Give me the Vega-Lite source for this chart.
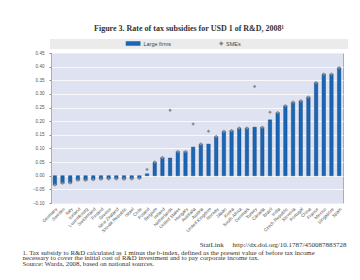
{
  "$schema": "https://vega.github.io/schema/vega-lite/v6.json",
  "autosize": {"type": "none"},
  "width": 292,
  "height": 150,
  "padding": {"left": 51, "top": 53, "right": 17, "bottom": 77},
  "background": "white",
  "title": {
    "text": "Figure 3.  Rate of tax subsidies for USD 1 of R&D, 2008¹",
    "font": "Liberation Serif",
    "fontSize": 8,
    "fontWeight": "bold",
    "color": "#333333",
    "anchor": "middle",
    "dx": -8,
    "offset": 6
  },
  "data": {
    "values": [
      {"country": "Germany", "large": -0.034, "sme": -0.034},
      {"country": "Sweden", "large": -0.028, "sme": -0.028},
      {"country": "Italy", "large": -0.027, "sme": -0.027},
      {"country": "Iceland", "large": -0.017, "sme": -0.017},
      {"country": "Luxembourg", "large": -0.017, "sme": -0.017},
      {"country": "Switzerland", "large": -0.015, "sme": -0.015},
      {"country": "Finland", "large": -0.013, "sme": -0.013},
      {"country": "Greece", "large": -0.012, "sme": -0.012},
      {"country": "New Zealand", "large": -0.012, "sme": -0.012},
      {"country": "Slovak Republic", "large": -0.013, "sme": -0.013},
      {"country": "Israel", "large": -0.012, "sme": -0.012},
      {"country": "Chile", "large": -0.01, "sme": -0.01},
      {"country": "Poland", "large": 0.007, "sme": 0.023},
      {"country": "Belgium", "large": 0.05, "sme": 0.05},
      {"country": "Ireland", "large": 0.067, "sme": 0.067},
      {"country": "Netherlands", "large": 0.065, "sme": 0.24},
      {"country": "United States", "large": 0.089, "sme": 0.089},
      {"country": "Hungary", "large": 0.089, "sme": 0.089},
      {"country": "Australia", "large": 0.105, "sme": 0.19},
      {"country": "Austria", "large": 0.116, "sme": 0.116},
      {"country": "United Kingdom", "large": 0.116, "sme": 0.163},
      {"country": "Norway", "large": 0.144, "sme": 0.144},
      {"country": "Japan", "large": 0.163, "sme": 0.163},
      {"country": "Korea", "large": 0.166, "sme": 0.166},
      {"country": "South Africa", "large": 0.175, "sme": 0.175},
      {"country": "Denmark", "large": 0.175, "sme": 0.175},
      {"country": "Turkey", "large": 0.178, "sme": 0.327},
      {"country": "Canada", "large": 0.178, "sme": 0.178},
      {"country": "Brazil", "large": 0.205, "sme": 0.233},
      {"country": "India", "large": 0.232, "sme": 0.232},
      {"country": "Czech Republic", "large": 0.257, "sme": 0.257},
      {"country": "Slovenia", "large": 0.27, "sme": 0.27},
      {"country": "Portugal", "large": 0.275, "sme": 0.275},
      {"country": "China", "large": 0.289, "sme": 0.289},
      {"country": "France", "large": 0.342, "sme": 0.342},
      {"country": "Mexico", "large": 0.373, "sme": 0.373},
      {"country": "Singapore", "large": 0.373, "sme": 0.373},
      {"country": "Spain", "large": 0.396, "sme": 0.396}
    ]
  },
  "encoding": {
    "x": {
      "field": "country",
      "type": "nominal",
      "sort": null,
      "scale": {"paddingInner": 0, "paddingOuter": 0},
      "axis": {
        "title": [
          "1.  Tax subsidy to R&D calculated as 1 minus the b-index, defined as the present value of before tax income",
          "\u00a0\u00a0\u00a0\u00a0necessary to cover the initial cost of R&D investment and to pay corporate income tax.",
          "Source:  Warda, 2008, based on national sources."
        ],
        "labelAngle": -45,
        "labelFontSize": 4.6,
        "labelFont": "Liberation Sans",
        "labelColor": "#555555",
        "ticks": false,
        "domain": false,
        "labelPadding": 3,
        "labelLimit": 100,
        "titleX": -29,
        "titleY": 46,
        "titleAlign": "left",
        "titleAnchor": "start",
        "titleBaseline": "top",
        "titleFont": "Liberation Serif",
        "titleFontSize": 6.8,
        "titleFontWeight": "normal",
        "titleColor": "#333333",
        "titleLineHeight": 5.8,
        "titleLimit": 400
      }
    }
  },
  "layer": [
    {
      "mark": {"type": "bar", "width": {"band": 0.45}, "stroke": "#0d3c78", "strokeWidth": 0.4},
      "encoding": {
        "y": {
          "field": "large",
          "type": "quantitative",
          "title": "StatLink \u00a0\u00a0\u00a0 http://dx.doi.org/10.1787/450087883728",
          "scale": {"domain": [-0.1, 0.45], "nice": false, "zero": false},
          "axis": {
            "values": [-0.1, -0.05, 0, 0.05, 0.1, 0.15, 0.2, 0.25, 0.3, 0.35, 0.4, 0.45],
            "format": ".2f",
            "labelOverlap": false,
            "labelFlush": false,
            "labelSeparation": 0,
            "grid": true,
            "gridColor": "#ffffff",
            "gridWidth": 0.8,
            "domain": false,
            "tickSize": 2,
            "tickColor": "#8a8a8a",
            "labelFontSize": 4.6,
            "labelFont": "Liberation Sans",
            "labelColor": "#555555",
            "labelPadding": 5,
            "titleAngle": 0,
            "titleAlign": "right",
            "titleBaseline": "alphabetic",
            "titleX": 295,
            "titleY": 193,
            "titleFont": "Liberation Serif",
            "titleFontSize": 7,
            "titleFontWeight": "normal",
            "titleColor": "#333333",
            "titleLimit": 400
          }
        },
        "color": {
          "datum": "Large firms",
          "type": "nominal",
          "scale": {"range": ["#1866b4"]},
          "legend": {
            "orient": "none",
            "legendX": -1,
            "legendY": -14,
            "title": "MMMMMMMMMMMMMMMM",
            "titleOpacity": 0,
            "titleOrient": "left",
            "titlePadding": 0,
            "titleFont": "Liberation Sans",
            "titleFontSize": 5.5,
            "symbolType": "M-1,-0.3H1V0.3H-1Z",
            "symbolSize": 225,
            "symbolStrokeWidth": 0,
            "clipHeight": 6,
            "labelFont": "Liberation Sans",
            "labelFontSize": 5.5,
            "labelColor": "#444444",
            "labelOffset": 3,
            "fillColor": "#ebebeb",
            "padding": 1.5
          }
        }
      }
    },
    {
      "mark": {"type": "point", "shape": "diamond", "filled": true, "size": 12, "color": "#8c8c8c", "opacity": 1},
      "encoding": {
        "y": {
          "field": "sme",
          "type": "quantitative",
          "title": "StatLink \u00a0\u00a0\u00a0 http://dx.doi.org/10.1787/450087883728",
          "axis": {
            "values": [-0.1, -0.05, 0, 0.05, 0.1, 0.15, 0.2, 0.25, 0.3, 0.35, 0.4, 0.45],
            "format": ".2f",
            "labelOverlap": false,
            "labelFlush": false,
            "labelSeparation": 0,
            "grid": true,
            "gridColor": "#ffffff",
            "gridWidth": 0.8,
            "domain": false,
            "tickSize": 2,
            "tickColor": "#8a8a8a",
            "labelFontSize": 4.6,
            "labelFont": "Liberation Sans",
            "labelColor": "#555555",
            "labelPadding": 5,
            "titleAngle": 0,
            "titleAlign": "right",
            "titleBaseline": "alphabetic",
            "titleX": 295,
            "titleY": 193,
            "titleFont": "Liberation Serif",
            "titleFontSize": 7,
            "titleFontWeight": "normal",
            "titleColor": "#333333",
            "titleLimit": 400
          }
        },
        "shape": {
          "datum": "SMEs",
          "type": "nominal",
          "scale": {"range": ["diamond"]},
          "legend": {
            "orient": "none",
            "legendX": 122,
            "legendY": -14,
            "title": "MMMMMMMMMMMMMMMMMMMMMMM",
            "titleOpacity": 0,
            "titleOrient": "right",
            "titlePadding": 0,
            "titleFont": "Liberation Sans",
            "titleFontSize": 5.5,
            "symbolOffset": 44,
            "symbolSize": 20,
            "symbolFillColor": "#8c8c8c",
            "symbolStrokeColor": "#8c8c8c",
            "symbolStrokeWidth": 0,
            "clipHeight": 6,
            "labelFont": "Liberation Sans",
            "labelFontSize": 5.5,
            "labelColor": "#444444",
            "labelOffset": 2,
            "labelLimit": 300,
            "fillColor": "#ebebeb",
            "padding": 1.5
          }
        }
      }
    }
  ],
  "config": {
    "view": {"fill": "#dfe3f1", "stroke": "#a9adbb", "strokeWidth": 1},
    "axisY": {"labelOverlap": false}
  }
}
